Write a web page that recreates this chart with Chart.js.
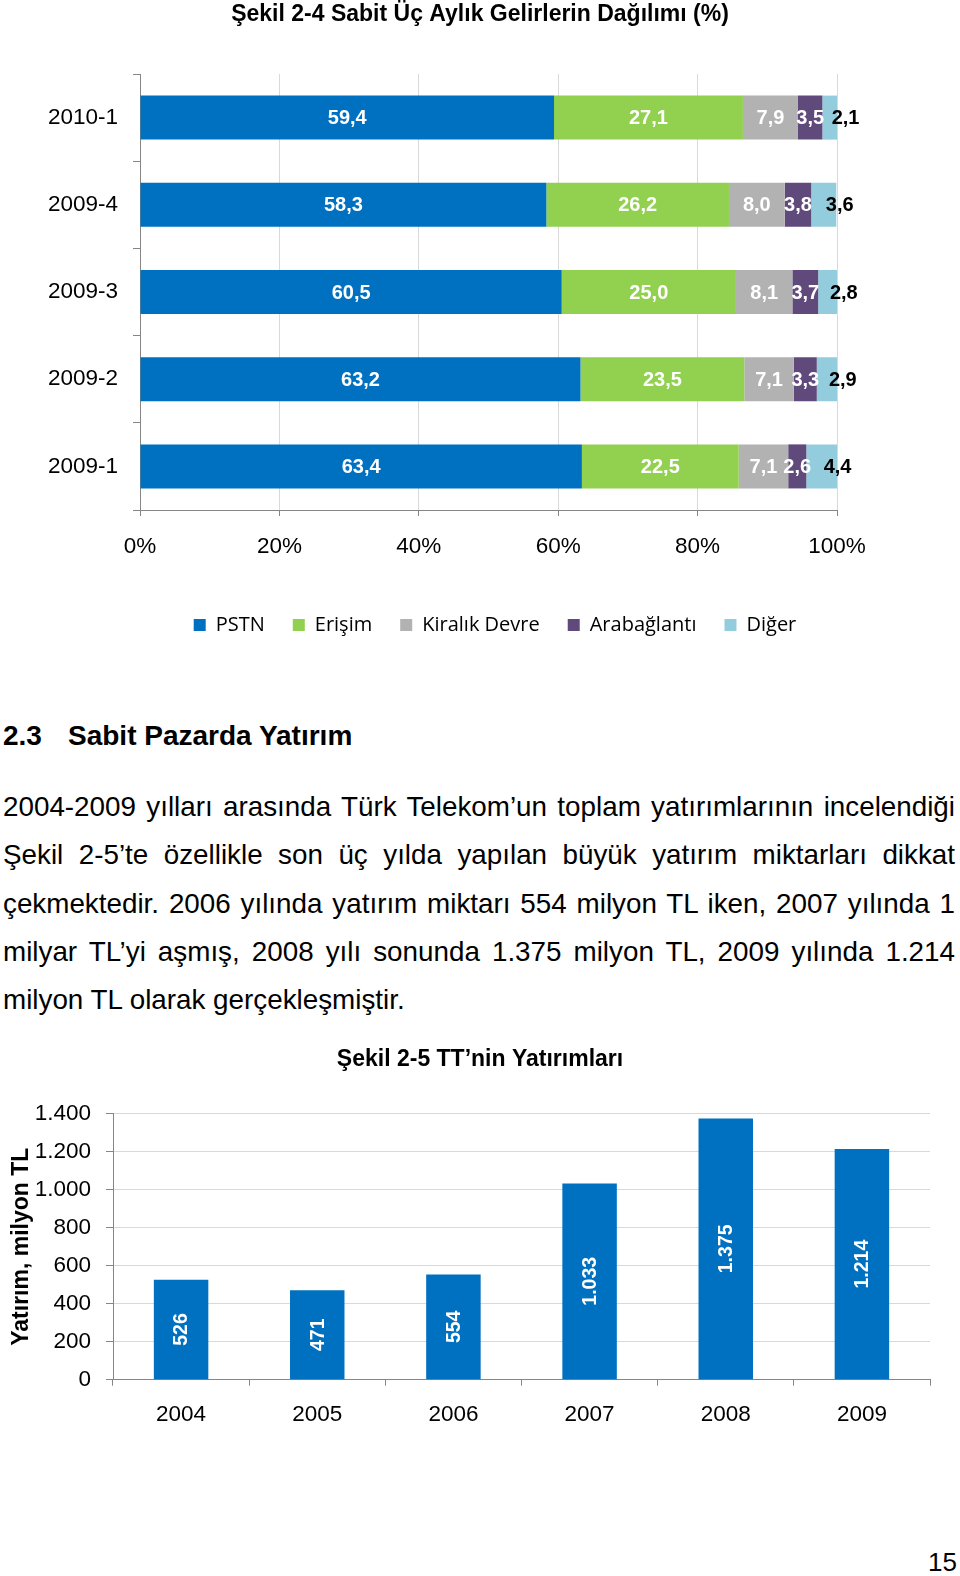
<!DOCTYPE html>
<html lang="tr">
<head>
<meta charset="utf-8">
<title>Şekil 2-4 / Şekil 2-5</title>
<script src="https://cdn.jsdelivr.net/npm/chart.js@4.4.1/dist/chart.umd.min.js"></script>
<style>
  html, body { margin: 0; padding: 0; background: #fff; }
  body { width: 960px; height: 1576px; position: relative; overflow: hidden;
         font-family: "Liberation Sans", Arial, sans-serif; color: #000; }
  #revChart { position: absolute; left: 0; top: 0; }
  #invChart { position: absolute; left: 0; top: 1032px; }
  .heading { position: absolute; left: 3px; top: 718px; width: 600px; height: 36px;
             font-size: 28px; font-weight: bold; line-height: 36px; white-space: nowrap; }
  .heading span { position: absolute; top: 0; }
  .line { position: absolute; left: 3px; width: 952px; font-size: 27.8px; line-height: 48px;
          white-space: nowrap; }
  .line.just { text-align: justify; text-align-last: justify; white-space: normal; }
  .pageno { position: absolute; right: 3px; top: 1546px; font-size: 26px; line-height: 32px; }
</style>
</head>
<body>

<canvas id="revChart" width="960" height="645"></canvas>

<div class="heading"><span style="left:0">2.3</span><span style="left:65px">Sabit Pazarda Yatırım</span></div>
<div class="line just" style="top:783px">2004-2009 yılları arasında Türk Telekom’un toplam yatırımlarının incelendiği</div>
<div class="line just" style="top:831px">Şekil 2-5’te özellikle son üç yılda yapılan büyük yatırım miktarları dikkat</div>
<div class="line just" style="top:880px">çekmektedir. 2006 yılında yatırım miktarı 554 milyon TL iken, 2007 yılında 1</div>
<div class="line just" style="top:928px">milyar TL’yi aşmış, 2008 yılı sonunda 1.375 milyon TL, 2009 yılında 1.214</div>
<div class="line" style="top:976px">milyon TL olarak gerçekleşmiştir.</div>

<canvas id="invChart" width="960" height="408"></canvas>

<div class="pageno">15</div>

<script>
// Şekil 2-4: share of quarterly fixed revenues (%)
const quarters = ['2010-1', '2009-4', '2009-3', '2009-2', '2009-1'];
const pstn = [59.4, 58.3, 60.5, 63.2, 63.4];
const erisim = [27.1, 26.2, 25.0, 23.5, 22.5];
const kiralikDevre = [7.9, 8.0, 8.1, 7.1, 7.1];
const arabaglanti = [3.5, 3.8, 3.7, 3.3, 2.6];
const diger = [2.1, 3.6, 2.8, 2.9, 4.4];
const shareTicks = [0, 20, 40, 60, 80, 100];

// Şekil 2-5: TT investments, million TL
const years = ['2004', '2005', '2006', '2007', '2008', '2009'];
const investment = [526, 471, 554, 1033, 1375, 1214];
const investTicks = [0, 200, 400, 600, 800, 1000, 1200, 1400];

const FONT = '"Liberation Sans", Arial, sans-serif';
const AXIS = '#868686';
const GRID = '#d9d9d9';

Chart.defaults.font.family = FONT;
Chart.defaults.color = '#000';

function comma(v) {
    return v.toFixed(1).replace('.', ',');
}

function thousands(v) {
    return String(v).replace(/\B(?=(\d{3})+(?!\d))/g, '.');
}

// values on the stacked segments; the last series sits to the right in black
const segmentLabels = {
    id: 'segmentLabels',
    afterDatasetsDraw(chart) {
        const ctx = chart.ctx;
        const last = chart.data.datasets.length - 1;
        ctx.save();
        ctx.font = 'bold 20px ' + FONT;
        ctx.textBaseline = 'middle';
        chart.data.datasets.forEach((ds, i) => {
            chart.getDatasetMeta(i).data.forEach((bar, j) => {
                const mid = (bar.x + bar.base) / 2;
                if (i === last) {
                    ctx.fillStyle = '#000';
                    ctx.textAlign = 'left';
                    ctx.fillText(comma(ds.data[j]), mid + 2, bar.y + 1);
                } else {
                    ctx.fillStyle = '#fff';
                    ctx.textAlign = 'center';
                    ctx.fillText(comma(ds.data[j]), mid, bar.y + 1);
                }
            });
        });
        ctx.restore();
    }
};

// legend of the first chart sits a little right of the page centre
const legendShift = {
    id: 'legendShift',
    afterLayout(chart) {
        chart.legend.left += 15;
        chart.legend.right += 15;
    }
};

// rotated values inside the investment bars
const investLabels = {
    id: 'investLabels',
    afterDatasetsDraw(chart) {
        const ctx = chart.ctx;
        ctx.save();
        ctx.font = 'bold 19.5px ' + FONT;
        ctx.fillStyle = '#fff';
        ctx.textAlign = 'center';
        ctx.textBaseline = 'middle';
        chart.getDatasetMeta(0).data.forEach((bar, i) => {
            ctx.save();
            ctx.translate(bar.x + 1, (bar.y + bar.base) / 2);
            ctx.rotate(-Math.PI / 2);
            ctx.fillText(thousands(investment[i]), 0, 0);
            ctx.restore();
        });
        ctx.restore();
    }
};

function series(label, data, color) {
    return { label: label, data: data, backgroundColor: color, borderWidth: 0 };
}

new Chart(document.getElementById('revChart'), {
    type: 'bar',
    data: {
        labels: quarters,
        datasets: [
            series('PSTN', pstn, '#0070c0'),
            series('Erişim', erisim, '#92d050'),
            series('Kiralık Devre', kiralikDevre, '#b2b2b2'),
            series('Arabağlantı', arabaglanti, '#604a7b'),
            series('Diğer', diger, '#93cddd')
        ]
    },
    options: {
        indexAxis: 'y',
        responsive: false,
        animation: false,
        devicePixelRatio: 1,
        barPercentage: 0.505,
        categoryPercentage: 1,
        layout: { padding: 0 },
        plugins: {
            title: {
                display: true,
                text: 'Şekil 2-4 Sabit Üç Aylık Gelirlerin Dağılımı (%)',
                font: { size: 23, weight: 'bold' },
                color: '#000',
                padding: { top: 1, bottom: 45.4 }
            },
            legend: {
                position: 'bottom',
                labels: {
                    font: { family: '"Open Sans", sans-serif', size: 20 },
                    color: '#000',
                    boxWidth: 12,
                    boxHeight: 12,
                    padding: 28
                }
            },
            tooltip: { enabled: false }
        },
        scales: {
            x: {
                stacked: true,
                min: 0,
                max: 100,
                afterBuildTicks: s => { s.ticks = shareTicks.map(v => ({ value: v })); },
                afterFit: s => { s.height = 77; },
                grid: { color: GRID, tickColor: AXIS, tickLength: 6 },
                border: { color: AXIS },
                ticks: {
                    font: { size: 22.5 },
                    padding: 17,
                    maxRotation: 0,
                    callback: v => v + '%'
                }
            },
            y: {
                stacked: true,
                afterFit: s => { s.width = 140; },
                grid: { drawOnChartArea: false, tickColor: AXIS, tickLength: 7 },
                border: { color: AXIS },
                ticks: { font: { size: 22.5 }, padding: 15 }
            },
            pad: {
                type: 'linear',
                position: 'right',
                grid: { display: false },
                border: { display: false },
                ticks: { display: false },
                afterFit: s => { s.width = 123; }
            }
        }
    },
    plugins: [segmentLabels, legendShift]
});

new Chart(document.getElementById('invChart'), {
    type: 'bar',
    data: {
        labels: years,
        datasets: [{
            label: 'Yatırım',
            data: investment,
            backgroundColor: '#0070c0',
            borderWidth: 0
        }]
    },
    options: {
        responsive: false,
        animation: false,
        devicePixelRatio: 1,
        barPercentage: 0.4,
        categoryPercentage: 1,
        layout: { padding: 0 },
        plugins: {
            title: {
                display: true,
                text: 'Şekil 2-5 TT’nin Yatırımları',
                font: { size: 23, weight: 'bold' },
                color: '#000',
                padding: { top: 14.2, bottom: 39.9 }
            },
            legend: { display: false },
            tooltip: { enabled: false }
        },
        scales: {
            x: {
                afterFit: s => { s.height = 60.3; },
                grid: { drawOnChartArea: false, tickColor: AXIS, tickLength: 6 },
                border: { color: AXIS },
                ticks: { font: { size: 22.5 }, padding: 16, maxRotation: 0 }
            },
            y: {
                min: 0,
                max: 1400,
                afterBuildTicks: s => { s.ticks = investTicks.map(v => ({ value: v })); },
                afterFit: s => { s.width = 113; },
                grid: { color: GRID, tickColor: AXIS, tickLength: 7 },
                border: { color: AXIS },
                ticks: {
                    font: { size: 22.5 },
                    padding: 15,
                    callback: v => thousands(v)
                },
                title: {
                    display: true,
                    text: 'Yatırım, milyon TL',
                    font: { size: 23, weight: 'bold' },
                    color: '#000',
                    padding: { top: 8.2, bottom: 0 }
                }
            },
            pad: {
                type: 'linear',
                position: 'right',
                grid: { display: false },
                border: { display: false },
                ticks: { display: false },
                afterFit: s => { s.width = 30; }
            }
        }
    },
    plugins: [investLabels]
});
</script>
</body>
</html>
